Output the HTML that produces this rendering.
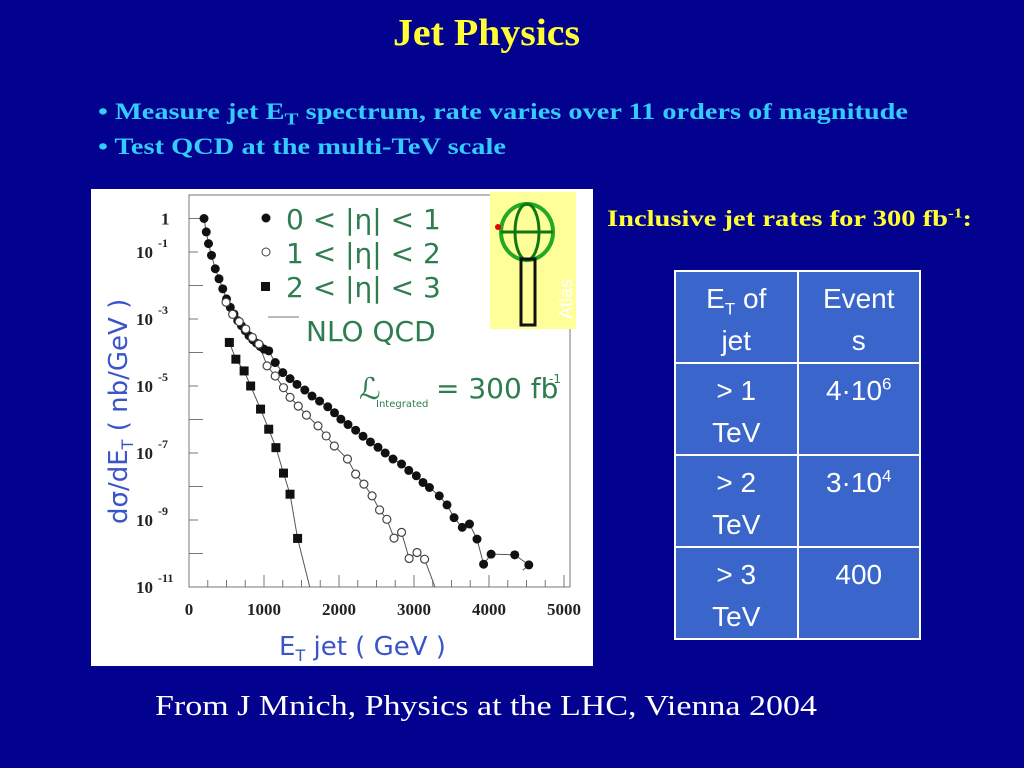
<!DOCTYPE html>
<html><head><meta charset="utf-8"><style>
html,body{margin:0;padding:0}
body{width:1024px;height:768px;background:#02028e;position:relative;overflow:hidden;font-family:"Liberation Serif",serif}
.abs{position:absolute;white-space:nowrap;transform-origin:0 0}
#title{left:393px;top:11px;color:#ffff33;font-weight:bold;font-size:38px}
.bul{left:98px;color:#33ccff;font-weight:bold;font-size:23px}
#rates{left:607px;top:206px;color:#ffff33;font-weight:bold;font-size:23px}
table{position:absolute;left:674px;top:270px;width:247px;table-layout:fixed;border-collapse:collapse;font-family:"Liberation Sans",sans-serif;color:#fff;font-size:28px}
td{border:2px solid #fff;background:#3a66cc;width:121px;height:92px;text-align:center;vertical-align:top;line-height:42px;padding:6px 0 0 0;box-sizing:border-box}
sup{font-size:17px;line-height:0}
sub{font-size:17px;line-height:0}
#foot{left:155px;top:690px;color:#fff;font-size:29px}
#plotbox{left:91px;top:189px;width:502px;height:477px;background:#fff}
</style></head><body>
<div id="title" class="abs" data-w="187">Jet Physics</div>
<div id="b1" class="abs bul" data-w="810" style="top:99px">• Measure jet E<sub>T</sub> spectrum, rate varies over 11 orders of magnitude</div>
<div id="b2" class="abs bul" data-w="408" style="top:134px">• Test QCD at the multi-TeV scale</div>
<div id="rates" class="abs" data-w="365">Inclusive jet rates for 300 fb<sup style="font-size:14px">-1</sup>:</div>
<table>
<tr><td>E<sub>T</sub> of<br>jet</td><td>Event<br>s</td></tr>
<tr><td>&gt; 1<br>TeV</td><td>4·10<sup>6</sup></td></tr>
<tr><td>&gt; 2<br>TeV</td><td>3·10<sup>4</sup></td></tr>
<tr><td>&gt; 3<br>TeV</td><td>400</td></tr>
</table>
<div id="foot" class="abs" data-w="662">From J Mnich, Physics at the LHC, Vienna 2004</div>
<div id="plotbox" class="abs">
<svg id="chart" width="502" height="477"></svg>
</div>
<script>
const xTicks=[0,1000,2000,3000,4000,5000];
const yDecades=[0,-1,-3,-5,-7,-9,-11];
const centralET=[200,230,260,300,350,400,450,500,550,600,650,700,750,800,850,900,950,1000,1063,1150,1250,1347,1440,1544,1640,1741,1850,1940,2025,2120,2222,2320,2419,2520,2616,2720,2834,2930,3031,3120,3206,3337,3440,3534,3643,3740,3840,3928,4028,4343,4531];
const centralLog=[0,-0.4,-0.75,-1.1,-1.5,-1.8,-2.1,-2.4,-2.65,-2.85,-3.05,-3.2,-3.35,-3.5,-3.62,-3.72,-3.82,-3.9,-3.95,-4.3,-4.6,-4.78,-4.95,-5.12,-5.3,-5.45,-5.62,-5.8,-5.99,-6.15,-6.32,-6.5,-6.67,-6.83,-7.0,-7.18,-7.33,-7.52,-7.68,-7.88,-8.03,-8.28,-8.55,-8.93,-9.22,-9.12,-9.57,-10.32,-10.02,-10.04,-10.34];
const fwdET=[494,582,670,757,845,932,1041,1150,1260,1347,1457,1566,1720,1829,1938,2113,2222,2332,2441,2541,2638,2734,2834,2935,3040,3141];
const fwdLog=[-2.5,-2.86,-3.08,-3.3,-3.55,-3.75,-4.4,-4.7,-5.05,-5.34,-5.6,-5.87,-6.19,-6.49,-6.79,-7.18,-7.63,-7.93,-8.28,-8.7,-8.98,-9.54,-9.37,-10.15,-9.97,-10.17];
const vfwdET=[538,625,735,822,954,1063,1159,1260,1347,1448];
const vfwdLog=[-3.7,-4.2,-4.55,-5.0,-5.69,-6.29,-6.84,-7.6,-8.23,-9.55];
document.querySelectorAll('[data-w]').forEach(el=>{const w=el.getBoundingClientRect().width;el.style.transform='scaleX('+(+el.dataset.w/w)+')';});
const NS="http://www.w3.org/2000/svg";
const svg=document.getElementById('chart');
const X0=98,X1=473,Y0=398,DEC=33.5;
function sx(v){return X0+(v/5000)*(X1-X0);}
function sy(l){return Y0-(l+11)*DEC;}
function mk(t,a){const e=document.createElementNS(NS,t);for(const k in a)e.setAttribute(k,a[k]);svg.appendChild(e);return e;}
const fr=mk('rect',{x:X0,y:6,width:381,height:Y0-6,fill:'none',stroke:'#777','stroke-width':1});


for(let k=0;k<=12;k++){const yy=sy(-k+1);if(yy<6)continue;const t=mk('line',{x1:X0,x2:X0+(k%2?14:9),y1:yy,y2:yy,stroke:'#777'});

}
for(let v=0;v<=5000;v+=250){const t=mk('line',{x1:sx(v),x2:sx(v),y1:Y0,y2:Y0-(v%1000?7:12),stroke:'#777'});

}
xTicks.forEach(v=>{const t=mk('text',{x:sx(v),y:Y0+28,'text-anchor':'middle','font-size':17,'font-weight':'bold','font-family':'Liberation Serif, serif',fill:'#222'});t.textContent=v;

});
yDecades.forEach(d=>{const y=sy(d);const t=mk('text',{x:d===0?70:45,y:y+6,'font-size':17,'font-weight':'bold','font-family':'Liberation Serif, serif',fill:'#222'});t.textContent=d===0?'1':'10';


if(d!==0){const s=mk('text',{x:67,y:y-5,'font-size':12,'font-weight':'bold','font-family':'Liberation Serif, serif',fill:'#222'});s.textContent=String(d);

}});
function line(ets,logs,name,ext){let pts=ets.map((e,i)=>sx(e)+','+sy(logs[i]));if(ext)pts.push(sx(ext[0])+','+sy(ext[1]));const p=mk('polyline',{points:pts.join(' '),fill:'none',stroke:'#555','stroke-width':1});

}
line(centralET,centralLog,'nlo-central-line',[4450,-10.5]);
line(fwdET,fwdLog,'nlo-forward-line',[3280,-11]);
line(vfwdET,vfwdLog,'nlo-very-forward-line',[1610,-11]);
centralET.forEach((e,i)=>{const c=mk('circle',{cx:sx(e),cy:sy(centralLog[i]),r:4.5,fill:'#111'});

});
fwdET.forEach((e,i)=>{const c=mk('circle',{cx:sx(e),cy:sy(fwdLog[i]),r:4,fill:'#fff',stroke:'#444','stroke-width':1.2});

});
vfwdET.forEach((e,i)=>{const c=mk('rect',{x:sx(e)-4.5,y:sy(vfwdLog[i])-4.5,width:9,height:9,fill:'#111'});

});
function txt(x,y,s,sz,fill,name,extra){const t=mk('text',Object.assign({x:x,y:y,'font-size':sz,'font-family':'DejaVu Sans, sans-serif',fill:fill},extra||{}));t.textContent=s;

return t;}
mk('circle',{cx:175,cy:29,r:4.5,fill:'#111'});
mk('circle',{cx:175,cy:63,r:4,fill:'#fff',stroke:'#444'});
mk('rect',{x:170,y:93,width:9,height:9,fill:'#111'});
mk('line',{x1:177,x2:208,y1:128,y2:128,stroke:'#777'});
txt(195,40,'0 < |η| < 1',28,'#2e7d4f','legend-central');
txt(195,74,'1  < |η| < 2',28,'#2e7d4f','legend-forward');
txt(195,108,'2 < |η| < 3',28,'#2e7d4f','legend-very-forward');
txt(215,152,'NLO QCD',28,'#2e7d4f','legend-nlo');
txt(268,210,'ℒ',30,'#2e7d4f','lumi-symbol',{'font-style':'italic'});
txt(285,218,'Integrated',10,'#2e7d4f','lumi-subscript');
txt(345,209,'= 300 fb',28,'#2e7d4f','lumi-value');
txt(458,194,'-1',12,'#2e7d4f','lumi-exponent');
const yl=mk('text',{transform:'translate(36,335) rotate(-90)','font-size':26,'font-family':'DejaVu Sans, sans-serif',fill:'#3a55c8'});
yl.innerHTML='dσ/dE<tspan font-size="16" dy="6">T</tspan><tspan dy="-6"> ( nb/GeV )</tspan>';


const xl=mk('text',{x:188,y:466,'font-size':26,'font-family':'DejaVu Sans, sans-serif',fill:'#3a55c8'});
xl.innerHTML='E<tspan font-size="16" dy="6">T</tspan><tspan dy="-6"> jet ( GeV )</tspan>';


const lg=mk('rect',{x:399,y:3,width:86,height:137,fill:'#ffff99'});


mk('ellipse',{cx:436,cy:43,rx:26,ry:28,fill:'none',stroke:'#22aa22','stroke-width':4});
mk('ellipse',{cx:436,cy:43,rx:12,ry:28,fill:'none',stroke:'#117711','stroke-width':3});
mk('line',{x1:410,x2:462,y1:43,y2:43,stroke:'#117711','stroke-width':3});
mk('rect',{x:430,y:70,width:14,height:66,fill:'none',stroke:'#111','stroke-width':3});
mk('circle',{cx:407,cy:38,r:3,fill:'#e00'});
txt(0,0,'Atlas',18,'#fff','atlas-label',{transform:'translate(481,130) rotate(-90)','font-family':'Liberation Sans, sans-serif'});
</script>
</body></html>
